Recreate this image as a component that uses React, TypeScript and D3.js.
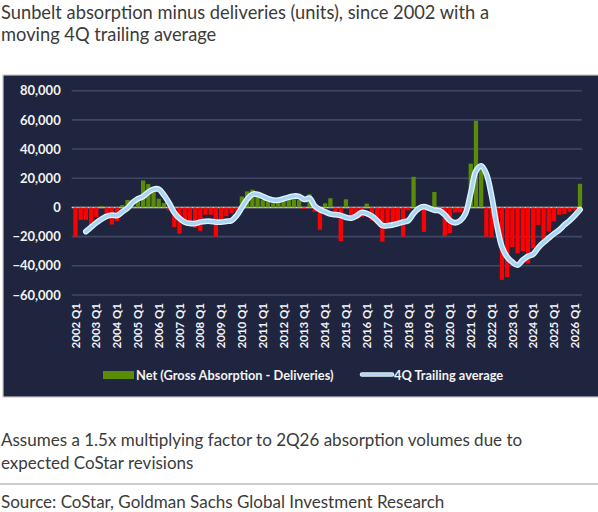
import React from "react";
import * as d3 from "d3";

// Quarter categories 2002 Q1 .. 2026 Q2
const quarters: string[] = [];
for (let yr = 2002; yr <= 2026; yr++) {
  for (let q = 1; q <= 4; q++) {
    if (yr === 2026 && q > 2) break;
    quarters.push(`${yr} Q${q}`);
  }
}

const tickLabels = [
  "2002 Q1", "2003 Q1", "2004 Q1", "2005 Q1", "2006 Q1", "2007 Q1", "2008 Q1",
  "2009 Q1", "2010 Q1", "2011 Q1", "2012 Q1", "2013 Q1", "2014 Q1", "2015 Q1",
  "2016 Q1", "2017 Q1", "2018 Q1", "2019 Q1", "2020 Q1", "2021 Q1", "2022 Q1",
  "2023 Q1", "2024 Q1", "2025 Q1", "2026 Q1",
];

const yTicks = [80000, 60000, 40000, 20000, 0, -20000, -40000, -60000];

// Net (Gross Absorption - Deliveries), one value per quarter
const netValues = [
  -20000, -8500, -8500, -12000, -6500, 1000, -4000, -11700, // 2002-2003
  -9400, 1600, 5100, 500, 7500, 18500, 16000, 12000, // 2004-2005
  6000, 3000, -2000, -13500, -18000, -9000, -10000, -14000, // 2006-2007
  -16000, -5000, -5000, -20000, -9000, -6000, -4000, -3000, // 2008-2009
  7500, 11000, 12200, 9800, 5000, 4000, 2800, 4000, // 2010-2011
  5600, 8500, 5600, 5000, -1000, 9000, -3000, -15300, // 2012-2013
  2800, 6300, -6600, -23000, 5600, -7800, -7800, -6600, // 2014-2015
  2600, -9000, -11000, -23500, -12500, -10000, -12000, -20000, // 2016-2017
  -2000, 21000, -2000, -16700, -1000, 10600, -2000, -19500, // 2018-2019
  -17600, -3500, -3500, -6000, 30000, 59400, 29700, -20000, // 2020-2021
  -20500, -9000, -49600, -47800, -27200, -31300, -30000, -38200, // 2022-2023
  -28000, -12000, -22000, -16500, -9600, -5000, -4600, -3000, // 2024-2025
  -2000, 16200, // 2026
];

// 4Q trailing average as drawn (null where not shown)
const trailingAvg: (number | null)[] = [
  null, null, -16500, -13500, -10500, -8000, -6000, -5300,
  -5500, -3000, -500, 3500, 6000, 7500, 10500, 12500,
  12500, 8500, 3000, -3500, -7500, -10000, -11000, -11000,
  -10000, -9500, -9500, -10000, -10000, -9500, -9000, -5500,
  0, 5500, 9000, 9000, 7500, 6000, 5000, 5000,
  6000, 7000, 7800, 7500, 5500, 6300, 1000, -1500,
  -3000, -4500, -5000, -5500, -6800, -7300, -5900, -3500,
  -4200, -6000, -9000, -12500, -12500, -12000, -11000, -10000,
  -9000, -4200, -700, 500, -500, -1900, -2300, -5000,
  -9000, -10500, -9000, -4000, 10000, 25000, 28500, 23000,
  8000, -12000, -27000, -34000, -37500, -39500, -36000, -33500,
  -32000, -27500, -24000, -21000, -18000, -15500, -12000, -9000,
  -5500, -1500,
];

const W = 598;
const H = 512;
const FONT = "Lato, 'Open Sans', sans-serif";

export default function App() {
  const x = d3.scalePoint<string>().domain(quarters).range([75.5, 580]);
  const step = x.step();
  const barW = step * 0.82;
  const y = d3.scaleLinear().domain([-60000, 80000]).range([295, 90.7]);
  const fmt = d3.format(",");

  const avgPts = quarters
    .map((q, i) => ({ q, v: trailingAvg[i] }))
    .filter((d) => d.v !== null) as { q: string; v: number }[];
  const line = d3
    .line<{ q: string; v: number }>()
    .x((d) => x(d.q)!)
    .y((d) => y(d.v))
    .curve(d3.curveCatmullRom.alpha(0.5));
  const path = line(avgPts) || "";

  return (
    <svg
      width={W}
      height={H}
      style={{ position: "absolute", left: 0, top: 0, background: "#fff" }}
      fontFamily={FONT}
    >
      {/* Title */}
      <text x={1} y={19} fontSize={18.3} fill="#3b3b3b">
        Sunbelt absorption minus deliveries (units), since 2002 with a
      </text>
      <text x={1} y={41} fontSize={18.3} fill="#3b3b3b">
        moving 4Q trailing average
      </text>

      {/* Panel */}
      <rect x={3} y={75} width={W + 2} height={322} fill="#20253f" stroke="#c9c9c9" strokeWidth={1.2} />

      {/* Gridlines */}
      {yTicks.map((t) => (
        <line
          key={t}
          x1={71.7}
          x2={582}
          y1={y(t)}
          y2={y(t)}
          stroke={t === 0 ? "#d9d6cc" : "#404766"}
          strokeWidth={t === 0 ? 1.4 : 1.6}
        />
      ))}
      {yTicks.map((t) => (
        <text
          key={"l" + t}
          x={60.7}
          y={y(t)}
          dy="0.36em"
          textAnchor="end"
          fontSize={13}
          fontWeight={700}
          fill="#f2f2f2"
        >
          {fmt(t)}
        </text>
      ))}

      {/* Bars */}
      {quarters.map((q, i) => {
        const v = netValues[i];
        const y0 = y(0);
        const yv = y(v);
        return (
          <rect
            key={q}
            x={x(q)! - barW / 2}
            y={Math.min(y0, yv)}
            width={barW}
            height={Math.abs(yv - y0)}
            fill={v >= 0 ? "#5a8c0a" : "#ff0000"}
          />
        );
      })}

      {/* Trailing average line */}
      <path d={path} fill="none" stroke="#e4f2fd" strokeWidth={5.8} strokeLinejoin="round" strokeLinecap="round" />
      <path d={path} fill="none" stroke="#a9d5f4" strokeWidth={3.2} strokeLinejoin="round" strokeLinecap="round" />

      {/* X tick labels */}
      {tickLabels.map((t) => (
        <text
          key={t}
          transform={`translate(${x(t)},303) rotate(-90)`}
          textAnchor="end"
          dy="0.36em"
          fontSize={11.5}
          fontWeight={700}
          fill="#f2f2f2"
        >
          {t}
        </text>
      ))}

      {/* Legend */}
      <rect x={103} y={371} width={31} height={8} fill="#5a8c0a" />
      <text x={136} y={380} fontSize={12.8} fontWeight={700} fill="#f2f2f2">
        Net (Gross Absorption - Deliveries)
      </text>
      <line x1={362} x2={392} y1={374.5} y2={374.5} stroke="#e4f2fd" strokeWidth={4.5} strokeLinecap="round" />
      <line x1={362} x2={392} y1={374.5} y2={374.5} stroke="#a9d5f4" strokeWidth={2.5} strokeLinecap="round" />
      <text x={394} y={380} fontSize={12.8} fontWeight={700} fill="#f2f2f2">
        4Q Trailing average
      </text>

      {/* Notes */}
      <text x={1} y={446} fontSize={17} fill="#3b3b3b">
        Assumes a 1.5x multiplying factor to 2Q26 absorption volumes due to
      </text>
      <text x={1} y={469} fontSize={17} fill="#3b3b3b">
        expected CoStar revisions
      </text>
      <line x1={0} x2={W} y1={484} y2={484} stroke="#9a9a9a" strokeWidth={1.2} />
      <text x={1} y={508} fontSize={17} fill="#3b3b3b">
        Source: CoStar, Goldman Sachs Global Investment Research
      </text>
    </svg>
  );
}
